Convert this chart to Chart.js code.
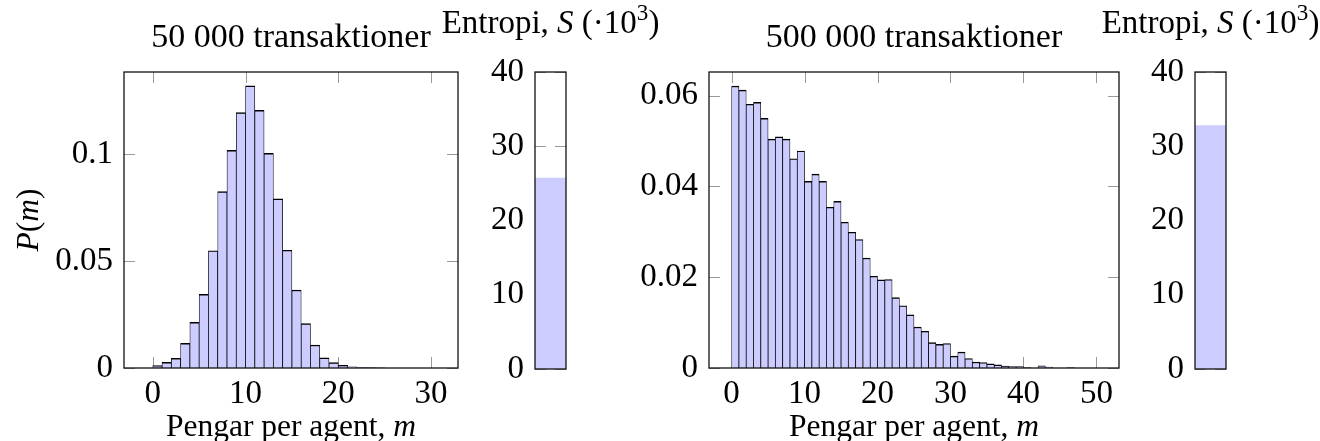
<!DOCTYPE html>
<html><head><meta charset="utf-8">
<script src="https://cdn.jsdelivr.net/npm/chart.js@4.4.1/dist/chart.umd.min.js"></script>
<style>
html,body{margin:0;padding:0;background:#fff;width:1320px;height:441px;overflow:hidden}
canvas{position:absolute;left:0;top:0}
</style></head><body>
<canvas id="histA" width="1320" height="441"></canvas>
<canvas id="entA" width="1320" height="441"></canvas>
<canvas id="histB" width="1320" height="441"></canvas>
<canvas id="entB" width="1320" height="441"></canvas>
<script>
// ---------- data ----------
const moneyA = [0,1,2,3,4,5,6,7,8,9,10,11,12,13,14,15,16,17,18,19,20,21,22,23,24];
const probA  = [0.0011,0.0026,0.0045,0.0115,0.0213,0.0344,0.0548,0.0824,0.1017,0.1193,0.1318,0.1204,0.1003,0.0790,0.0550,0.0364,0.0207,0.0107,0.0047,0.0025,0.0013,0.0006,0.0002,0.0002,0.0001];
const moneyB = [0,1,2,3,4,5,6,7,8,9,10,11,12,13,14,15,16,17,18,19,20,21,22,23,24,25,26,27,28,29,30,31,32,33,34,35,36,37,38,39,40,41,42,43,44,45,46];
const probB  = [0.0621,0.0612,0.0581,0.0585,0.0550,0.0504,0.0509,0.0504,0.0461,0.0478,0.0411,0.0427,0.0411,0.0354,0.0367,0.0321,0.0299,0.0283,0.0242,0.0202,0.0194,0.0195,0.0155,0.0137,0.0117,0.0090,0.0081,0.0056,0.0052,0.0054,0.0026,0.0035,0.0021,0.0013,0.0012,0.0009,0.0007,0.0004,0.0003,0.0003,0.0001,0,0.0005,0.0002,0,0,0.0001];
const entropyCategory = ['S'];
const entropyA = [25.7];
const entropyB = [32.8];
const xTicksA = [0,10,20,30];
const xTicksB = [0,10,20,30,40,50];
const yTicksA = [0,0.05,0.1];
const yTicksB = [0,0.02,0.04,0.06];
const yTicksEntropy = [0,10,20,30,40];
const titleA = '50 000 transaktioner';
const titleB = '500 000 transaktioner';
const xLabelText = 'Pengar per agent, ';
const xLabelVar = 'm';

// ---------- style ----------
const FONT = '"Liberation Serif", "Times New Roman", serif';
const TICK_PX = 33;
const TITLE_PX = 34;
const ENT_TITLE_PX = 33;
const LABEL_PX = 31.5;
const FILL = 'rgb(204,204,255)';

function drawRuns(ctx, runs, x, y, size) {
  const parts = runs.map(r => {
    const s = r.sup ? size * 0.7 : size;
    const font = (r.it ? 'italic ' : '') + s + 'px ' + FONT;
    ctx.font = font;
    return { t: r.t, font, w: ctx.measureText(r.t).width, dy: r.sup ? -size * 0.38 : 0 };
  });
  const total = parts.reduce((a, p) => a + p.w, 0);
  let cx = x - total / 2;
  ctx.textBaseline = 'alphabetic';
  ctx.textAlign = 'left';
  ctx.fillStyle = '#000';
  for (const p of parts) { ctx.font = p.font; ctx.fillText(p.t, cx, y + p.dy); cx += p.w; }
}

function textPlugin(items) {
  return {
    id: 'richText',
    afterDraw(chart) {
      const ctx = chart.ctx;
      for (const it of items) {
        ctx.save();
        if (it.rot) {
          ctx.translate(it.x, it.y);
          ctx.rotate(-Math.PI / 2);
          drawRuns(ctx, it.runs, 0, 0, it.size);
        } else {
          drawRuns(ctx, it.runs, it.x, it.y, it.size);
        }
        ctx.restore();
      }
    }
  };
}

function framePlugin(withXTicks) {
  return {
    id: 'frame',
    beforeDatasetsDraw(chart) {
      const ctx = chart.ctx, a = chart.chartArea, L = 11;
      ctx.save();
      ctx.strokeStyle = '#9a9a9a';
      ctx.lineWidth = 1;
      ctx.beginPath();
      const ys = chart.scales.y;
      ys.ticks.forEach((t, i) => {
        const py = Math.round(ys.getPixelForTick(i)) + 0.5;
        ctx.moveTo(a.left, py); ctx.lineTo(a.left + L, py);
        ctx.moveTo(a.right, py); ctx.lineTo(a.right - L, py);
      });
      if (withXTicks) {
        const xs = chart.scales.x;
        xs.ticks.forEach((t, i) => {
          const px = Math.round(xs.getPixelForTick(i)) + 0.5;
          ctx.moveTo(px, a.top); ctx.lineTo(px, a.top + L);
          ctx.moveTo(px, a.bottom); ctx.lineTo(px, a.bottom - L);
        });
      }
      ctx.stroke();
      ctx.restore();
    },
    afterDatasetsDraw(chart) {
      const ctx = chart.ctx, a = chart.chartArea;
      ctx.save();
      ctx.strokeStyle = '#111';
      ctx.lineWidth = 1.3;
      ctx.strokeRect(a.left, a.top, a.right - a.left, a.bottom - a.top);
      ctx.restore();
    }
  };
}

const tickFont = { family: FONT, size: TICK_PX };

function histChart(id, money, prob, xTicks, yTicks, xmin, xmax, ymax, area, title) {
  const xH = 40, yW = 110;
  const cfg = {
    type: 'bar',
    data: {
      datasets: [{
        data: money.map((m, i) => ({ x: m + 0.5, y: prob[i] })),
        backgroundColor: FILL,
        borderColor: '#000',
        borderWidth: { top: 1.4, left: 0.75, right: 0.75, bottom: 0 },
        borderSkipped: 'start',
        barPercentage: 1,
        categoryPercentage: 1
      }]
    },
    options: {
      responsive: false, animation: false, devicePixelRatio: 1, events: [],
      layout: { padding: { left: area.left - yW, right: 1320 - area.right, top: area.top, bottom: 441 - area.bottom - xH } },
      plugins: { legend: { display: false }, tooltip: { enabled: false }, title: { display: false } },
      scales: {
        x: {
          type: 'linear', min: xmin, max: xmax, offset: false,
          grid: { display: false, drawTicks: false, offset: false }, border: { display: false },
          afterBuildTicks: s => { s.ticks = xTicks.map(v => ({ value: v })); },
          afterFit: s => { s.height = xH; },
          ticks: { font: tickFont, color: '#000', padding: 7, maxRotation: 0, callback: v => String(v) }
        },
        y: {
          type: 'linear', min: 0, max: ymax,
          grid: { display: false, drawTicks: false }, border: { display: false },
          afterBuildTicks: s => { s.ticks = yTicks.map(v => ({ value: v })); },
          afterFit: s => { s.width = yW; },
          ticks: { font: tickFont, color: '#000', padding: 11, callback: v => String(v) }
        }
      }
    },
    plugins: [framePlugin(true), textPlugin([
      { runs: [{ t: title }], x: (area.left + area.right) / 2, y: 47, size: TITLE_PX },
      { runs: [{ t: xLabelText }, { t: xLabelVar, it: true }], x: (area.left + area.right) / 2, y: 436, size: LABEL_PX }
    ].concat(area.ylabel ? [{ rot: true, runs: [{ t: 'P', it: true }, { t: '(' }, { t: 'm', it: true }, { t: ')' }], x: 38, y: (area.top + area.bottom) / 2, size: LABEL_PX }] : []))]
  };
  return new Chart(document.getElementById(id), cfg);
}

function entropyChart(id, values, area) {
  const yW = 70;
  return new Chart(document.getElementById(id), {
    type: 'bar',
    data: {
      labels: entropyCategory,
      datasets: [{ data: values, backgroundColor: FILL, borderWidth: 0, barPercentage: 1, categoryPercentage: 1 }]
    },
    options: {
      responsive: false, animation: false, devicePixelRatio: 1, events: [],
      layout: { padding: { left: area.left - yW, right: 1320 - area.right, top: area.top, bottom: 441 - area.bottom } },
      plugins: { legend: { display: false }, tooltip: { enabled: false } },
      scales: {
        x: { display: false },
        y: {
          type: 'linear', min: 0, max: 40,
          grid: { display: false, drawTicks: false }, border: { display: false },
          afterBuildTicks: s => { s.ticks = yTicksEntropy.map(v => ({ value: v })); },
          afterFit: s => { s.width = yW; },
          ticks: { font: tickFont, color: '#000', padding: 11, callback: v => String(v) }
        }
      }
    },
    plugins: [framePlugin(false), textPlugin([
      { runs: [{ t: 'Entropi, ' }, { t: 'S', it: true }, { t: ' (·10' }, { t: '3', sup: true }, { t: ')' }], x: (area.left + area.right) / 2, y: 33, size: ENT_TITLE_PX }
    ])]
  });
}

histChart('histA', moneyA, probA, xTicksA, yTicksA, -3.1, 32.9, 0.1383, { left: 124, right: 458, top: 72, bottom: 368, ylabel: true }, titleA);
entropyChart('entA', entropyA, { left: 535, right: 566, top: 72, bottom: 369 });
histChart('histB', moneyB, probB, xTicksB, yTicksB, -3.1, 53.1, 0.0652, { left: 709, right: 1119, top: 72, bottom: 368 }, titleB);
entropyChart('entB', entropyB, { left: 1195, right: 1226, top: 72, bottom: 369 });
</script>
</body></html>
